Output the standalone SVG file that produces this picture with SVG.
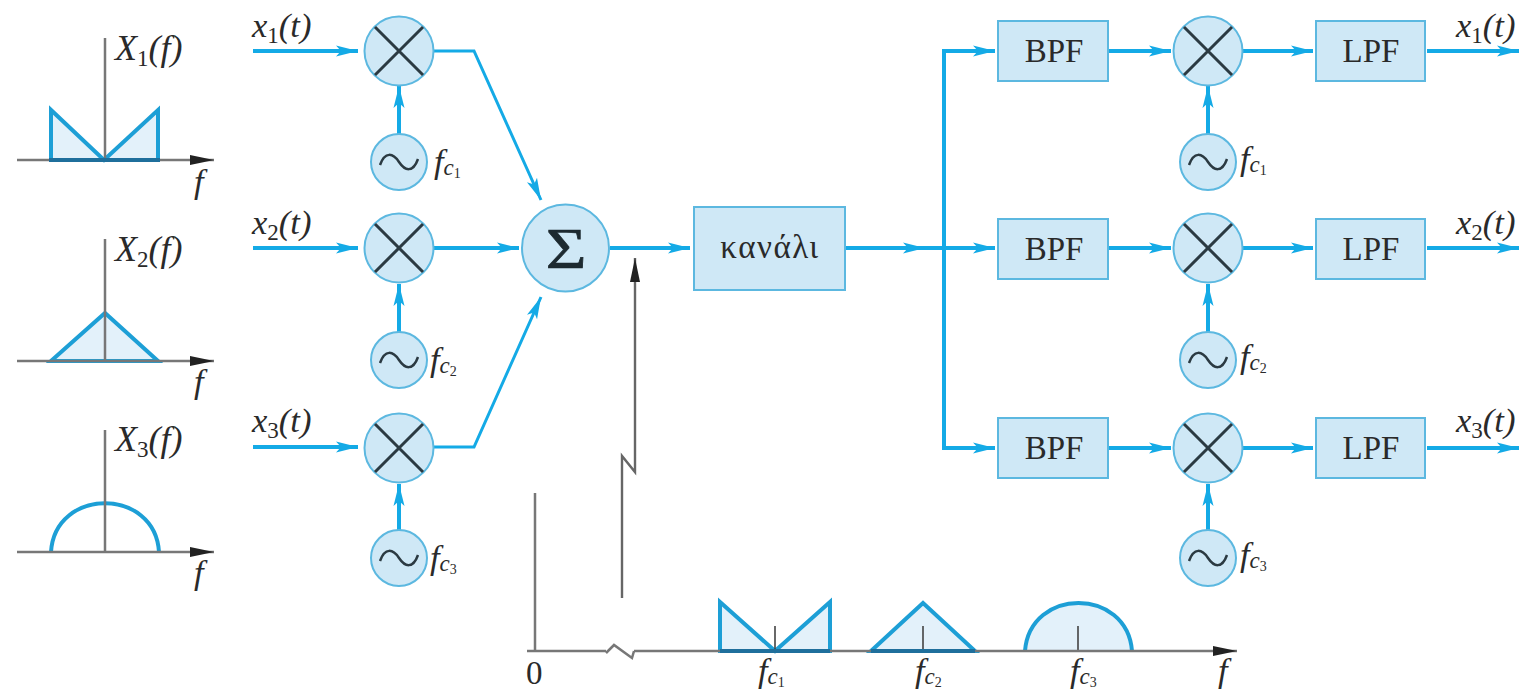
<svg xmlns="http://www.w3.org/2000/svg" width="1519" height="694" viewBox="0 0 1519 694">
<style>
text{font-family:"Liberation Serif","Times New Roman",serif;fill:#2a2a2a}
.i{font-style:italic;font-size:34.5px}
.X{font-style:italic;font-size:36px}
.s{font-size:23px;font-style:normal}
.sf{font-size:23px;font-style:italic}
.ss{font-size:14px;font-style:normal}
.b{font-size:33px;text-anchor:middle}
.fill{fill:#cfe8f6;stroke:#5cb8e0;stroke-width:2}
.x{stroke:#2b3a42;stroke-width:3;fill:none}
.w{stroke:#2b3a42;stroke-width:2.5;fill:none}
.c{stroke:#14aae6;stroke-width:4;fill:none}
.ct{stroke:#14aae6;stroke-width:3;fill:none}
.ax{stroke:#777;stroke-width:2.5;fill:none}
.sp{fill:#e3f1fa;stroke:#1d9fd6;stroke-width:4}
.base{stroke:#1f6f9c;stroke-width:4}
</style>
<defs>
<marker id="a" viewBox="0 0 22 14" refX="22" refY="7" markerWidth="22" markerHeight="14" markerUnits="userSpaceOnUse" orient="auto"><path d="M0 1.5L5 7L0 12.5L22 7Z" fill="#14aae6"/></marker>
<marker id="k" viewBox="0 0 24 14" refX="24" refY="7" markerWidth="24" markerHeight="14" markerUnits="userSpaceOnUse" orient="auto"><path d="M0 2L24 7L0 12Z" fill="#222"/></marker>
<g id="mixer"><circle r="34.5" class="fill"/><path class="x" d="M-24-24L24 24M24-24L-24 24"/></g>
<g id="osc"><circle r="28" class="fill"/><path class="w" d="M-19 3C-14-11-6-9 0 0S14 11 19-3"/></g>
</defs>
<g id="connectors">
<path class="c" marker-end="url(#a)" d="M253 51H358"/>
<path class="c" marker-end="url(#a)" d="M253 248H358"/>
<path class="c" stroke-width="5" marker-end="url(#a)" d="M253 447H358"/>
<path class="c" marker-end="url(#a)" d="M399 134V86"/>
<path class="c" marker-end="url(#a)" d="M399 332V284"/>
<path class="c" marker-end="url(#a)" d="M399 530V484"/>
<path class="ct" marker-end="url(#a)" d="M434 51H474L541 200"/>
<path class="c" marker-end="url(#a)" d="M434 248H519"/>
<path class="ct" marker-end="url(#a)" d="M434 447H474L541 297"/>
<path class="c" marker-end="url(#a)" d="M610 248H690"/>
<path class="c" marker-end="url(#a)" d="M846 248H925"/>
<path class="c" marker-end="url(#a)" d="M925 248H995"/>
<path class="c" marker-end="url(#a)" d="M944 248V51H995"/>
<path class="c" marker-end="url(#a)" d="M944 248V448H995"/>
<path class="c" marker-end="url(#a)" d="M1109 51H1171"/>
<path class="c" marker-end="url(#a)" d="M1109 248H1171"/>
<path class="c" marker-end="url(#a)" d="M1109 448H1171"/>
<path class="c" marker-end="url(#a)" d="M1208 134V86"/>
<path class="c" marker-end="url(#a)" d="M1208 332V284"/>
<path class="c" marker-end="url(#a)" d="M1208 530V484"/>
<path class="c" marker-end="url(#a)" d="M1243 51H1313"/>
<path class="c" marker-end="url(#a)" d="M1243 248H1313"/>
<path class="c" marker-end="url(#a)" d="M1243 448H1313"/>
<path class="c" marker-end="url(#a)" d="M1427 51H1519"/>
<path class="c" marker-end="url(#a)" d="M1427 248H1519"/>
<path class="c" marker-end="url(#a)" d="M1427 448H1519"/>
<path stroke="#666" stroke-width="2.4" fill="none" marker-end="url(#k)" d="M622 598V456L635 472V258"/>
</g>
<g id="spectrum-1">
<path class="sp" d="M51 160V110L104 160L158 110V160Z"/>
<path class="ax" d="M105 38V160"/>
<path class="ax" marker-end="url(#k)" d="M17 160H214"/>
<path class="base" d="M49 160H160"/>
<text class="X" x="115" y="60">X<tspan class="s" dy="6">1</tspan><tspan dy="-6">(f)</tspan></text>
<text class="i" x="194" y="193">f</text>
</g>
<g id="spectrum-2">
<path class="sp" d="M51 361L105 313L158 361Z"/>
<path class="ax" d="M105 239V361"/>
<path class="ax" marker-end="url(#k)" d="M17 361H214"/>
<text class="X" x="115" y="261">X<tspan class="s" dy="6">2</tspan><tspan dy="-6">(f)</tspan></text>
<text class="i" x="194" y="393">f</text>
</g>
<g id="spectrum-3">
<path d="M51 552C55 487 155 487 159 552" fill="none" stroke="#1d9fd6" stroke-width="4"/>
<path class="ax" d="M105 430V552"/>
<path class="ax" marker-end="url(#k)" d="M17 552H214"/>
<text class="X" x="115" y="451">X<tspan class="s" dy="6">3</tspan><tspan dy="-6">(f)</tspan></text>
<text class="i" x="194" y="584">f</text>
</g>
<g id="inputs">
<text class="i" x="252" y="37">x<tspan class="s" dy="6">1</tspan><tspan dy="-6">(t)</tspan></text>
<text class="i" x="252" y="234">x<tspan class="s" dy="6">2</tspan><tspan dy="-6">(t)</tspan></text>
<text class="i" x="252" y="432">x<tspan class="s" dy="6">3</tspan><tspan dy="-6">(t)</tspan></text>
</g>
<g id="mixer-1"><use href="#mixer" x="399" y="51"/></g>
<g id="mixer-2"><use href="#mixer" x="399" y="248"/></g>
<g id="mixer-3"><use href="#mixer" x="399" y="448"/></g>
<g id="osc-1"><use href="#osc" x="399" y="162"/><text class="i" x="434" y="173">f<tspan class="sf" dy="2">c</tspan><tspan class="ss" dy="3">1</tspan></text></g>
<g id="osc-2"><use href="#osc" x="399" y="360"/><text class="i" x="430" y="371">f<tspan class="sf" dy="2">c</tspan><tspan class="ss" dy="3">2</tspan></text></g>
<g id="osc-3"><use href="#osc" x="399" y="558"/><text class="i" x="430" y="569">f<tspan class="sf" dy="2">c</tspan><tspan class="ss" dy="3">3</tspan></text></g>
<g id="sum"><circle cx="565.5" cy="248" r="43.5" class="fill"/><text transform="translate(566 268) scale(1.25 1)" font-size="56" text-anchor="middle" style="fill:#1d2a30;stroke:#1d2a30;stroke-width:.7">Σ</text></g>
<g id="channel"><rect x="694" y="207" width="151" height="83" class="fill"/><text class="b" x="770" y="258" letter-spacing="1.5" font-size="35">κανάλι</text></g>
<g id="bpf-1"><rect x="998" y="21" width="110" height="60" class="fill"/><text class="b" x="1054" y="62">BPF</text></g>
<g id="bpf-2"><rect x="998" y="219" width="110" height="60" class="fill"/><text class="b" x="1054" y="260">BPF</text></g>
<g id="bpf-3"><rect x="998" y="418" width="110" height="60" class="fill"/><text class="b" x="1054" y="459">BPF</text></g>
<g id="mixer-4"><use href="#mixer" x="1208" y="51"/></g>
<g id="mixer-5"><use href="#mixer" x="1208" y="248"/></g>
<g id="mixer-6"><use href="#mixer" x="1208" y="448"/></g>
<g id="osc-4"><use href="#osc" x="1208" y="162"/><text class="i" x="1240" y="170">f<tspan class="sf" dy="2">c</tspan><tspan class="ss" dy="3">1</tspan></text></g>
<g id="osc-5"><use href="#osc" x="1208" y="360"/><text class="i" x="1240" y="368">f<tspan class="sf" dy="2">c</tspan><tspan class="ss" dy="3">2</tspan></text></g>
<g id="osc-6"><use href="#osc" x="1208" y="558"/><text class="i" x="1240" y="566">f<tspan class="sf" dy="2">c</tspan><tspan class="ss" dy="3">3</tspan></text></g>
<g id="lpf-1"><rect x="1316" y="21" width="109" height="60" class="fill"/><text class="b" x="1371" y="62">LPF</text></g>
<g id="lpf-2"><rect x="1316" y="219" width="109" height="60" class="fill"/><text class="b" x="1371" y="260">LPF</text></g>
<g id="lpf-3"><rect x="1316" y="418" width="109" height="60" class="fill"/><text class="b" x="1371" y="459">LPF</text></g>
<g id="outputs">
<text class="i" x="1456" y="37">x<tspan class="s" dy="6">1</tspan><tspan dy="-6">(t)</tspan></text>
<text class="i" x="1456" y="234">x<tspan class="s" dy="6">2</tspan><tspan dy="-6">(t)</tspan></text>
<text class="i" x="1456" y="432">x<tspan class="s" dy="6">3</tspan><tspan dy="-6">(t)</tspan></text>
</g>
<g id="spectrum-mux">
<path d="M720 651V602L775 651L830 602V651Z" class="sp"/>
<path d="M871 651L923 603L975 651Z" class="sp"/>
<path d="M1025 651C1030 587 1127 587 1132 651Z" fill="#e3f1fa"/>
<path d="M1025 651C1030 587 1127 587 1132 651" fill="none" stroke="#1d9fd6" stroke-width="4"/>
<path d="M775 626V651M923 626V651M1078 626V651" stroke="#444" stroke-width="1.6" fill="none"/>
<path class="ax" d="M535 493V651"/>
<path class="ax" d="M527 651H606"/>
<path class="ax" d="M606 653L614 645L632 658L634 651"/>
<path class="ax" marker-end="url(#k)" d="M634 651H1237"/>
<path class="base" d="M720 651H830M871 651H975"/>
<text x="526" y="684" font-size="33">0</text>
<text class="i" x="758" y="682">f<tspan class="sf" dy="2">c</tspan><tspan class="ss" dy="3">1</tspan></text>
<text class="i" x="915" y="682">f<tspan class="sf" dy="2">c</tspan><tspan class="ss" dy="3">2</tspan></text>
<text class="i" x="1070" y="682">f<tspan class="sf" dy="2">c</tspan><tspan class="ss" dy="3">3</tspan></text>
<text class="i" x="1218" y="682">f</text>
</g>
</svg>
